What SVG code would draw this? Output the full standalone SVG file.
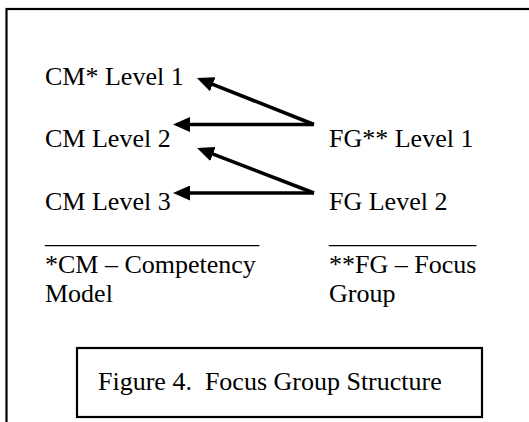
<svg xmlns="http://www.w3.org/2000/svg" width="529" height="422" viewBox="0 0 529 422">
<style>
  text { font-family: 'Liberation Serif', 'Times New Roman', Times, 'DejaVu Serif', serif; font-size: 26px; fill: #000; }
  .frame { fill: none; stroke: #000; stroke-width: 2.2; }
  .arrow { stroke: #000; stroke-width: 3.6; fill: none; marker-end: url(#head); }
</style>
<defs>
  <marker id="head" viewBox="0 0 17 15" refX="4" refY="7.5" markerWidth="17" markerHeight="15" markerUnits="userSpaceOnUse" orient="auto">
    <path d="M0,0 L17,7.5 L0,15 z" fill="#000"/>
  </marker>
</defs>
<rect class="frame" x="6.5" y="9" width="540" height="430"/>
<g id="cm1"><text x="45" y="85">CM* Level 1</text></g>
<g id="cm2"><text x="45" y="147">CM Level 2</text></g>
<g id="cm3"><text x="45" y="210">CM Level 3</text></g>
<g id="fg1"><text x="329" y="147">FG** Level 1</text></g>
<g id="fg2"><text x="329" y="210">FG Level 2</text></g>
<g id="connectors">
  <line class="arrow" x1="314" y1="124.5" x2="209" y2="82.8"/>
  <line class="arrow" x1="314" y1="124.5" x2="186" y2="124.5"/>
  <line class="arrow" x1="314" y1="193" x2="209.2" y2="152.6"/>
  <line class="arrow" x1="314" y1="193" x2="186" y2="193"/>
</g>
<g id="legend-cm">
  <text x="45" y="243" textLength="214" lengthAdjust="spacingAndGlyphs">________________</text>
  <text x="45" y="273">*CM – Competency</text>
  <text x="45" y="302">Model</text>
</g>
<g id="legend-fg">
  <text x="329" y="243" textLength="147" lengthAdjust="spacingAndGlyphs">___________</text>
  <text x="329" y="273">**FG – Focus</text>
  <text x="329" y="302">Group</text>
</g>
<g id="caption">
  <rect class="frame" x="77" y="348" width="405" height="69"/>
  <text x="98" y="390" font-size="26.4" xml:space="preserve">Figure 4.  Focus Group Structure</text>
</g>
</svg>
